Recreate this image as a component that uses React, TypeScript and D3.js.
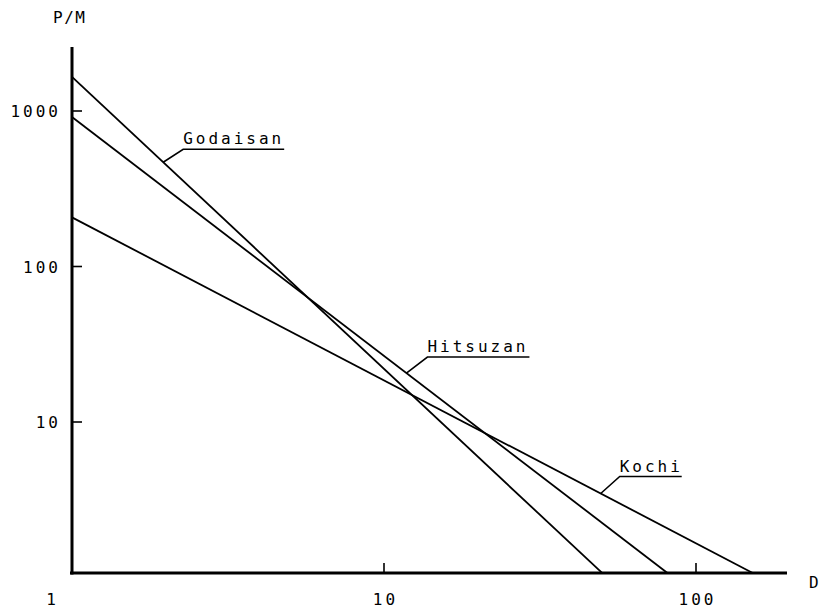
import React from "react";
import * as d3 from "d3";

const seriesNames = ["Godaisan", "Hitsuzan", "Kochi"];
const startD = [1, 1, 1];
const startPM = [1656, 915, 207];
const endD = [50, 81, 152];
const endPM = [1.07, 1.07, 1.07];
const labelD = [1.96, 11.8, 49.5];

const xTicks = [1, 10, 100];
const xTickLabels = ["1", "10", "100"];
const yTicks = [10, 100, 1000];
const yTickLabels = ["10", "100", "1000"];

const W = 825;
const H = 611;

const x = d3.scaleLog().domain([1, 100]).range([72, 696]);
const y = d3.scaleLog().domain([10, 1000]).range([422, 111]);

const axisY = y(1.07);
const axisTop = 47;
const axisRight = 787;

const labelOffsets = [
  { dx: 20, dy: -13, len: 101 },
  { dx: 21, dy: -16, len: 102 },
  { dx: 19, dy: -17, len: 62 },
];

const font = "'DejaVu Sans Mono', 'Liberation Mono', monospace";
const fs = 16;
const ls = 3;

export default function App() {
  const line = d3
    .line<[number, number]>()
    .x((d) => x(d[0]))
    .y((d) => y(d[1]));

  const pmAt = (i: number, d: number) => {
    const t = (Math.log(d) - Math.log(startD[i])) / (Math.log(endD[i]) - Math.log(startD[i]));
    return Math.exp(Math.log(startPM[i]) + t * (Math.log(endPM[i]) - Math.log(startPM[i])));
  };

  return (
    <svg
      width={W}
      height={H}
      style={{ position: "absolute", left: 0, top: 0, background: "#fff" }}
    >
      <rect x={0} y={0} width={W} height={H} fill="#fff" />
      {seriesNames.map((n, i) => (
        <path
          key={n}
          d={line([
            [startD[i], startPM[i]],
            [endD[i], endPM[i]],
          ]) as string}
          fill="none"
          stroke="#000"
          strokeWidth={1.8}
        />
      ))}
      <line x1={72} y1={axisTop} x2={72} y2={axisY + 1.5} stroke="#000" strokeWidth={3} />
      <line x1={70} y1={axisY} x2={axisRight} y2={axisY} stroke="#000" strokeWidth={3} />
      {yTicks.map((t, i) => (
        <g key={t}>
          <line x1={72} y1={y(t)} x2={82} y2={y(t)} stroke="#000" strokeWidth={1.6} />
          <text
            x={58 + ls}
            y={y(t) + 6}
            textAnchor="end"
            fontFamily={font}
            fontSize={fs}
            letterSpacing={ls}
          >
            {yTickLabels[i]}
          </text>
        </g>
      ))}
      {xTicks.map((t, i) => (
        <g key={t}>
          {i > 0 && (
            <line x1={x(t)} y1={axisY} x2={x(t)} y2={axisY - 10} stroke="#000" strokeWidth={1.6} />
          )}
          <text
            x={(i === 0 ? 51 : x(t)) + ls / 2}
            y={605}
            textAnchor="middle"
            fontFamily={font}
            fontSize={fs}
            letterSpacing={ls}
          >
            {xTickLabels[i]}
          </text>
        </g>
      ))}
      <text x={53} y={23} fontFamily={font} fontSize={fs} letterSpacing={1.5}>
        P/M
      </text>
      <text x={809} y={588} fontFamily={font} fontSize={fs}>
        D
      </text>
      {seriesNames.map((n, i) => {
        const px = x(labelD[i]);
        const py = y(pmAt(i, labelD[i]));
        const o = labelOffsets[i];
        const lx = px + o.dx;
        const ly = py + o.dy;
        return (
          <g key={n + "-lab"}>
            <polyline
              points={`${px},${py} ${lx},${ly} ${lx + o.len},${ly}`}
              fill="none"
              stroke="#000"
              strokeWidth={1.6}
            />
            <text
              x={lx}
              y={ly - 5}
              fontFamily={font}
              fontSize={fs}
              letterSpacing={ls}
            >
              {n}
            </text>
          </g>
        );
      })}
    </svg>
  );
}
